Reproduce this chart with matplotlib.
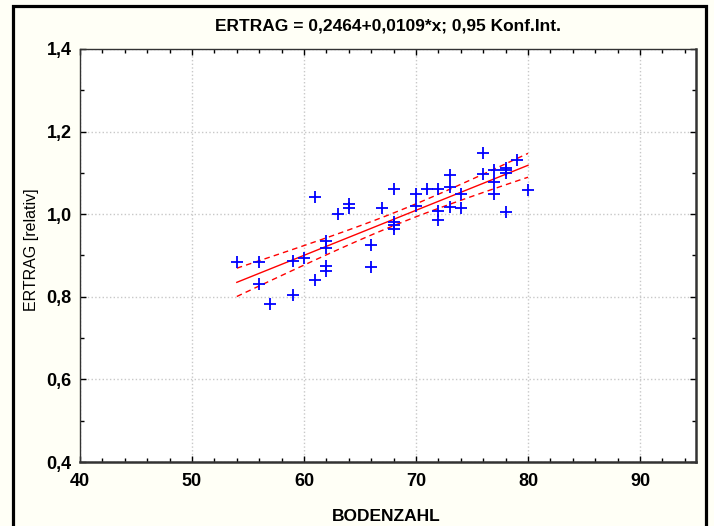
import numpy as np
import matplotlib
matplotlib.use("Agg")
import matplotlib.pyplot as plt
from matplotlib.lines import Line2D
from matplotlib.ticker import MultipleLocator, FuncFormatter

# Daten
bodenzahl = [54, 56, 56, 57, 59, 59, 60, 61, 61, 62, 62, 62, 62, 63, 64, 64,
             66, 66, 67, 68, 68, 68, 68, 70, 70, 71, 72, 72, 72, 73, 73, 73,
             74, 74, 76, 76, 77, 77, 77, 78, 78, 78, 78, 79, 80]
ertrag = [0.885, 0.885, 0.831, 0.783, 0.887, 0.805, 0.893, 1.042, 0.841, 0.935,
          0.919, 0.875, 0.863, 1.000, 1.024, 1.015, 0.925, 0.871, 1.014, 1.060,
          0.982, 0.973, 0.963, 1.050, 1.019, 1.060, 1.060, 1.008, 0.986, 1.094,
          1.066, 1.018, 1.050, 1.015, 1.148, 1.098, 1.106, 1.078, 1.050, 1.112,
          1.100, 1.106, 1.006, 1.132, 1.058]
a, b = 0.2464, 0.0109   # aus dem Titel
t_wert = 2.017          # t(0,975; n-2)

fnt = ['Liberation Sans', 'DejaVu Sans']
bg = '#fffff6'

x = np.array(bodenzahl, dtype=float)
y = np.array(ertrag)
n = len(x)
res = y - (a + b * x)
s = np.sqrt(np.sum(res ** 2) / (n - 2))
xs = np.linspace(x.min(), x.max(), 100)
ys = a + b * xs
se = s * np.sqrt(1 / n + (xs - x.mean()) ** 2 / np.sum((x - x.mean()) ** 2))

W, H = 714, 526
fig = plt.figure(figsize=(W / 100, H / 100), dpi=100, facecolor=bg)
ax = fig.add_axes([80 / W, 1 - 462 / H, 616 / W, 413 / H])
ax.set_facecolor('white')

# Rahmen um das ganze Bild (unten offen)
fl, fr, ft = 13.5 / W, 706 / W, 1 - 5.5 / H
fig.add_artist(Line2D([fl, fl, fr, fr], [0, ft, ft, 0], transform=fig.transFigure,
                      color='black', lw=2.3, solid_joinstyle='miter'))

ax.plot(bodenzahl, ertrag, '+', color='#0000ff', markersize=9, mew=1.3, zorder=3)
ax.plot(xs, ys, color='#ff0000', lw=1.0, zorder=2)
ax.plot(xs, ys + t_wert * se, color='#ff0000', lw=1.0, ls=(0, (4, 3)), zorder=2)
ax.plot(xs, ys - t_wert * se, color='#ff0000', lw=1.0, ls=(0, (4, 3)), zorder=2)

ax.set_xlim(40, 95)
ax.set_ylim(0.4, 1.4)
ax.xaxis.set_major_locator(MultipleLocator(10))
ax.xaxis.set_minor_locator(MultipleLocator(2))
ax.yaxis.set_major_locator(MultipleLocator(0.2))
ax.yaxis.set_minor_locator(MultipleLocator(0.1))
ax.yaxis.set_major_formatter(FuncFormatter(lambda v, p: f"{v:.1f}".replace('.', ',')))
ax.tick_params(which='both', direction='in', top=True, right=True, width=1.0)
ax.tick_params(which='major', length=4)
ax.tick_params(which='minor', length=3)
ax.tick_params(axis='x', which='major', labelsize=13, pad=8)
ax.tick_params(axis='y', which='major', labelsize=13, pad=6)
for lab in ax.get_xticklabels() + ax.get_yticklabels():
    lab.set_family(fnt)
    lab.set_fontweight('bold')

ax.grid(True, which='major', color='#c8c8c8', ls=':', lw=1.0)
for sp in ax.spines.values():
    sp.set_color('#333333')
    sp.set_linewidth(1.0)
ax.spines['right'].set_linewidth(1.8)
ax.spines['bottom'].set_linewidth(1.8)

ax.set_title('ERTRAG = 0,2464+0,0109*x; 0,95 Konf.Int.', family=fnt,
             fontweight='bold', fontsize=12.5, pad=13)
ax.set_xlabel('BODENZAHL', family=fnt, fontweight='bold', fontsize=12.5)
ax.xaxis.set_label_coords(0.497, -0.113)
ax.set_ylabel('ERTRAG [relativ]', family=fnt, fontsize=11.5)
ax.yaxis.set_label_coords(-0.066, 0.515)

fig.savefig('out.png', dpi=100, facecolor=bg)
